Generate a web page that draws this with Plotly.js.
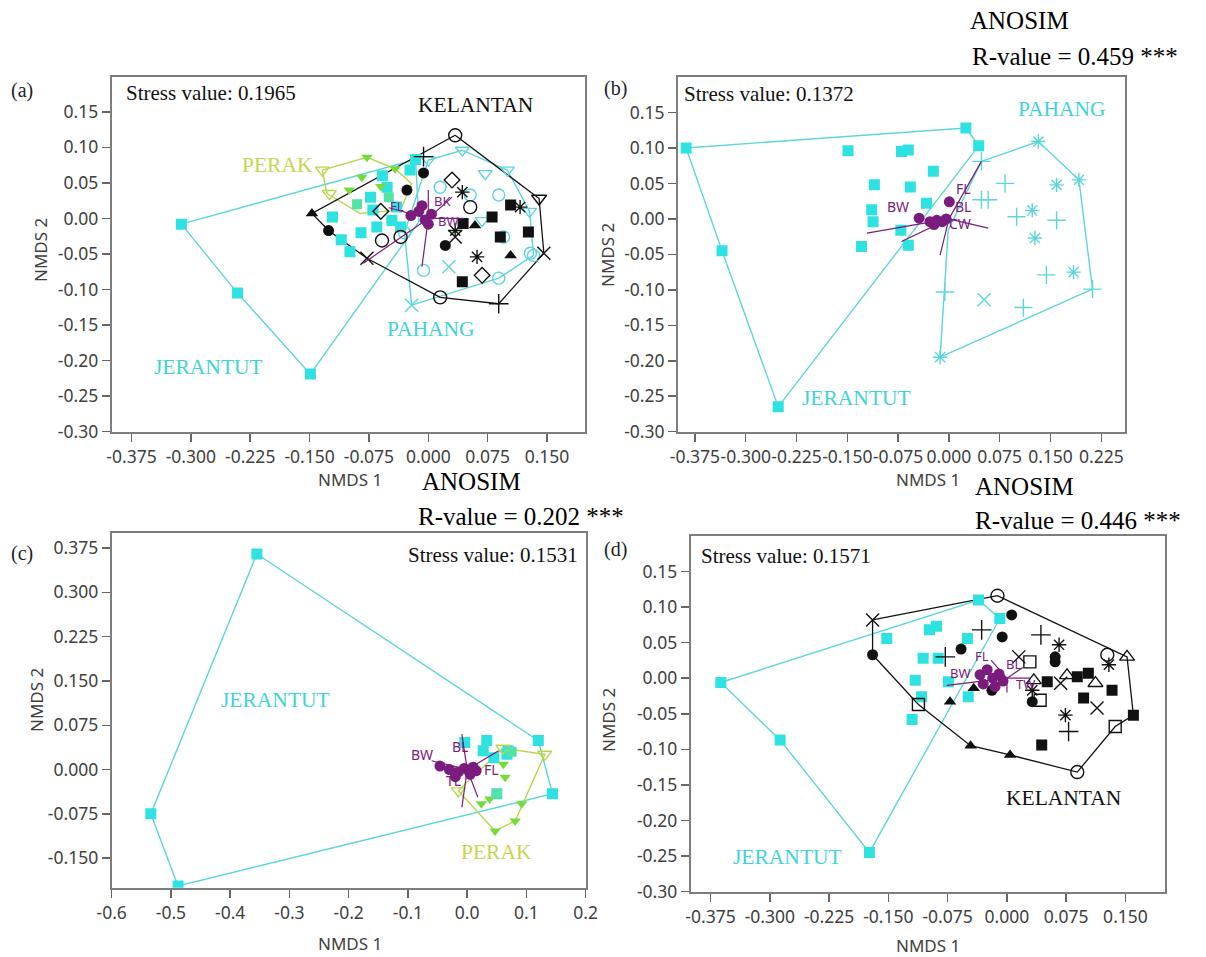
<!DOCTYPE html>
<html><head><meta charset="utf-8">
<script src="https://cdn.plot.ly/plotly-3.0.1.min.js"></script>
<style>html,body{margin:0;padding:0;background:#fff}#chart{width:1206px;height:957px}</style>
</head><body><div id="chart"></div>
<script>
// ---------------- DATA ----------------
// Panel (a)
const aJerX = [-0.312,-0.241,-0.149,-0.121,-0.085,-0.099,-0.073,-0.070,-0.065,-0.052,-0.046,-0.040,-0.023,-0.016,-0.035,-0.110,-0.058];
const aJerY = [-0.008,-0.105,-0.219,0.002,-0.020,-0.047,0.030,0.012,-0.012,0.044,-0.003,0.016,0.068,0.083,-0.012,-0.030,0.060];
const aJerHullX = [-0.312,-0.016,-0.012,-0.149,-0.241,-0.312];
const aJerHullY = [-0.008,0.083,-0.005,-0.219,-0.105,-0.008];
const aPerX = [-0.134,-0.0775,-0.084,-0.042,-0.100,-0.060,-0.125,-0.090,-0.050];
const aPerY = [0.068,0.086,0.058,0.070,0.040,0.045,0.035,0.020,0.030];
const aPerS = ['R2','R1','R1','R1','R1','R1','R2','R3','R3'];
const aPerHullX = [-0.134,-0.0775,-0.042,-0.021,-0.035,-0.086,-0.128,-0.134];
const aPerHullY = [0.068,0.086,0.070,0.049,0.012,0.007,0.035,0.068];
const aPahX = [-0.021,0.043,0.100,0.072,0.053,-0.006,0.089,0.129,0.095,0.026,0.068,0.015,0.089,0.128,0.133,-0.030,0.000];
const aPahY = [-0.122,0.096,0.068,0.063,0.033,-0.073,-0.084,-0.049,-0.026,-0.068,-0.003,0.044,0.033,0.010,-0.052,-0.020,0.082];
const aPahS = ['P3','P2','P2','P2','P1','P1','P1','P1','P1','P3','P2','P1','P1','P2','P1','P1','P2'];
const aPahHullX = [-0.021,-0.030,0.000,0.043,0.100,0.128,0.133,0.089,-0.021];
const aPahHullY = [-0.122,-0.020,0.082,0.096,0.068,0.010,-0.052,-0.084,-0.122];
const aKelX = [0.034,0.140,0.146,0.089,0.015,-0.0775,-0.126,-0.147,-0.0585,-0.035,0.053,0.034,-0.006,0.0215,-0.027,-0.006,0.104,0.059,0.0806,0.044,0.091,0.1265,0.104,0.043,0.030,0.068,0.043,0.0616,0.034,0.116,-0.060];
const aKelY = [0.117,0.028,-0.049,-0.120,-0.111,-0.056,-0.017,0.007,-0.031,-0.026,0.016,-0.026,0.087,-0.038,0.040,0.064,-0.052,-0.010,0.002,-0.007,-0.026,-0.019,0.019,-0.089,0.054,-0.080,0.037,-0.054,-0.017,0.016,0.010];
const aKelS = ['K2','K9','K7','K8','K2','K7','K1','K6','K2','K2','K2','K7','K8','K1','K1','K1','K6','K6','K3','K3','K3','K3','K3','K3','K4','K4','K5','K5','K5','K5','K4'];
const aKelHullX = [0.034,0.140,0.146,0.089,0.015,-0.0775,-0.126,-0.147,0.034];
const aKelHullY = [0.117,0.028,-0.049,-0.120,-0.111,-0.056,-0.017,0.007,0.117];
const aCenX = [-0.022,-0.012,-0.004,0.004,-0.008,0.000];
const aCenY = [0.004,0.010,-0.002,0.006,0.018,-0.008];
const aVecX = [-0.008,-0.082,0.045,0.030,-0.050,0.000];
const aVecY = [-0.068,-0.063,0.000,0.030,0.015,0.040];
const aVecLab = ['FL','BK','BW'];
const aVecLabX = [-0.040,0.018,0.026];
const aVecLabY = [0.018,0.024,-0.003];

// Panel (b)
const bJerX = [-0.388,0.025,0.044,-0.335,-0.252,-0.149,-0.070,-0.060,-0.023,-0.110,-0.057,-0.033,-0.114,-0.112,-0.071,-0.129,-0.060];
const bJerY = [0.100,0.128,0.103,-0.045,-0.265,0.096,0.095,0.097,0.067,0.048,0.045,0.022,0.013,-0.004,-0.016,-0.039,-0.037];
const bJerHullX = [-0.388,0.025,0.044,-0.252,-0.335,-0.388];
const bJerHullY = [0.100,0.128,0.103,-0.265,-0.045,0.100];
const bPahX = [0.132,0.192,0.212,-0.013,0.048,0.083,0.048,0.058,0.100,0.123,0.159,0.159,0.127,0.144,0.184,0.052,0.110,-0.006];
const bPahY = [0.109,0.055,-0.099,-0.195,0.081,0.050,0.027,0.027,0.003,0.012,0.048,-0.002,-0.027,-0.079,-0.075,-0.114,-0.125,-0.103];
const bPahS = ['P5','P5','P4','P5','P4','P4','P4','P4','P4','P5','P5','P4','P5','P4','P5','P3','P4','P4'];
const bPahHullX = [0.048,0.132,0.192,0.212,-0.013,-0.001,0.048];
const bPahHullY = [0.081,0.109,0.055,-0.099,-0.195,-0.016,0.081];
const bCenX = [-0.044,0.0006,-0.028,-0.018,-0.010,-0.004,-0.022];
const bCenY = [0.001,0.024,-0.004,-0.002,-0.004,0.000,-0.008];
const bVecX = [0.048,-0.121,-0.070,-0.013,0.058];
const bVecY = [0.081,-0.020,-0.032,-0.051,-0.013];
const bVecLab = ['BW','FL','BL','CW'];
const bVecLabX = [-0.075,0.021,0.021,0.016];
const bVecLabY = [0.017,0.043,0.017,-0.006];

// Panel (c)
const cJerX = [-0.355,0.120,0.144,-0.488,-0.534,0.033,0.027,0.067,0.050,0.069,-0.004,0.045];
const cJerY = [0.365,0.049,-0.041,-0.197,-0.075,0.049,0.032,0.026,-0.041,0.032,0.046,0.020];
const cJerHullX = [-0.355,0.120,0.144,-0.488,-0.534,-0.355];
const cJerHullY = [0.365,0.049,-0.041,-0.197,-0.075,0.365];
const cPerX = [0.131,0.047,0.081,-0.015,0.024,0.038,0.064,0.061,0.092,0.060,0.050,0.075];
const cPerY = [0.026,-0.104,-0.087,-0.036,-0.058,-0.050,-0.013,0.009,-0.058,0.036,-0.041,0.030];
const cPerS = ['R2','R1','R1','R2','R1','R1','R1','R1','R1','R2','R3','R3'];
const cPerHullX = [-0.015,0.047,0.081,0.131,0.060,-0.015];
const cPerHullY = [-0.036,-0.104,-0.087,0.026,0.036,-0.036];
const cCenX = [-0.046,-0.030,-0.015,-0.005,0.005,0.015,-0.020,0.010];
const cCenY = [0.006,0.000,-0.004,0.002,-0.008,-0.002,-0.012,0.004];
const cVecX = [-0.009,-0.009,0.053,0.018,-0.060];
const cVecY = [0.060,-0.064,0.032,-0.047,0.015];
const cVecLab = ['BW','BL','FL','TL'];
const cVecLabX = [-0.077,-0.012,0.041,-0.023];
const cVecLabY = [0.026,0.039,0.000,-0.019];

// Panel (d)
const dJerX = [-0.362,-0.287,-0.174,-0.036,-0.009,-0.152,-0.098,-0.089,-0.106,-0.087,-0.050,-0.116,-0.108,-0.120,-0.074,-0.049];
const dJerY = [-0.006,-0.087,-0.245,0.110,0.084,0.056,0.068,0.073,0.028,0.028,0.056,-0.003,-0.026,-0.058,-0.005,-0.026];
const dJerHullX = [-0.362,-0.036,-0.009,-0.174,-0.287,-0.362];
const dJerHullY = [-0.006,0.110,0.084,-0.245,-0.087,-0.006];
const dKelX = [-0.170,-0.012,0.152,0.160,0.137,0.089,0.004,-0.046,-0.112,-0.170,0.006,-0.006,-0.058,-0.019,0.032,0.061,0.061,0.127,-0.032,0.043,-0.078,0.078,0.066,0.074,0.129,0.032,0.051,0.089,0.097,0.133,0.044,0.103,0.029,0.042,0.076,0.112,0.034,0.114,0.068,0.015,-0.072,-0.042];
const dKelY = [0.082,0.116,0.030,-0.052,-0.068,-0.132,-0.108,-0.095,-0.037,0.033,0.089,0.058,0.041,-0.017,-0.033,0.023,0.030,0.033,0.068,0.061,0.030,-0.075,0.047,-0.052,0.019,-0.017,-0.005,0.002,-0.028,-0.017,-0.094,0.007,0.023,-0.031,0.004,-0.007,-0.003,-0.042,-0.007,0.030,-0.033,-0.014];
const dKelS = ['K7','K2','K11','K3','K10','K2','K6','K6','K10','K1','K1','K1','K1','K1','K1','K1','K1','K2','K8','K8','K8','K8','K5','K5','K5','K5','K3','K3','K3','K3','K3','K3','K10','K10','K11','K11','K11','K7','K7','K7','K6','K6'];
const dKelHullX = [-0.170,-0.012,0.152,0.160,0.137,0.089,0.004,-0.046,-0.112,-0.170,-0.170];
const dKelHullY = [0.082,0.116,0.030,-0.052,-0.068,-0.132,-0.108,-0.095,-0.037,0.033,0.082];
const dCenX = [-0.034,-0.025,-0.018,-0.010,-0.030,-0.015,-0.005];
const dCenY = [0.005,0.012,0.000,0.006,-0.008,-0.012,-0.004];
const dVecX = [-0.076,0.030,-0.020,0.000,0.020];
const dVecY = [-0.010,0.000,0.025,-0.020,0.015];
const dVecLab = ['BW','FL','BL','TW'];
const dVecLabX = [-0.059,-0.031,0.008,0.024];
const dVecLabY = [0.007,0.031,0.020,-0.008];

// Ticks
const tickX1 = [-0.375,-0.300,-0.225,-0.150,-0.075,0.000,0.075,0.150];
const tickX1Lab = ['-0.375','-0.300','-0.225','-0.150','-0.075','0.000','0.075','0.150'];
const tickX2 = [-0.375,-0.300,-0.225,-0.150,-0.075,0.000,0.075,0.150,0.225];
const tickX2Lab = ['-0.375','-0.300','-0.225','-0.150','-0.075','0.000','0.075','0.150','0.225'];
const tickY1 = [-0.30,-0.25,-0.20,-0.15,-0.10,-0.05,0.00,0.05,0.10,0.15];
const tickY1Lab = ['-0.30','-0.25','-0.20','-0.15','-0.10','-0.05','0.00','0.05','0.10','0.15'];
const tickX3 = [-0.6,-0.5,-0.4,-0.3,-0.2,-0.1,0.0,0.1,0.2];
const tickX3Lab = ['-0.6','-0.5','-0.4','-0.3','-0.2','-0.1','0.0','0.1','0.2'];
const tickY3 = [-0.150,-0.075,0.000,0.075,0.150,0.225,0.300,0.375];
const tickY3Lab = ['-0.150','-0.075','0.000','0.075','0.150','0.225','0.300','0.375'];

// ---------------- STYLE ----------------
const CYAN='#2fe2e2', CYAN_L='#5cd6d9', BLACK='#111111', LIME='#b9d64a', GREEN='#74dc3a', GSQ='#55e2a6', PURPLE='#7a1c7e';
const SYM = {
  K1:['circle',11,true], K2:['circle-open',13,false], K3:['square',11,true], K4:['diamond-open',12,false],
  K5:['asterisk-open',12,false], K6:['triangle-up',11,true], K7:['x-thin-open',13,false], K8:['cross-thin-open',14,false],
  K9:['triangle-down-open',13,false], K10:['square-open',12,false], K11:['triangle-up-open',13,false],
  P1:['circle-open',12,false], P2:['triangle-down-open',12,false], P3:['x-thin-open',13,false],
  P4:['cross-thin-open',13,false], P5:['asterisk-open',12,false],
  R1:['triangle-down',10,true], R2:['triangle-down-open',12,false], R3:['square',10,true]
};
const traces = [];
function hull(xa,ya,X,Y,color,w){traces.push({type:'scatter',mode:'lines',xaxis:xa,yaxis:ya,x:X,y:Y,line:{color:color,width:w||1.4},hoverinfo:'skip'});}
function squares(xa,ya,X,Y){traces.push({type:'scatter',mode:'markers',xaxis:xa,yaxis:ya,x:X,y:Y,marker:{symbol:'square',size:11,color:CYAN,line:{width:0}},hoverinfo:'skip'});}
function pts(xa,ya,X,Y,S,colorOf){
  [...new Set(S)].forEach(c=>{
    const idx=S.map((s,i)=>s===c?i:-1).filter(i=>i>=0);
    const [sym,size,filled]=SYM[c]; const col=colorOf(c);
    traces.push({type:'scatter',mode:'markers',xaxis:xa,yaxis:ya,x:idx.map(i=>X[i]),y:idx.map(i=>Y[i]),
      marker:{symbol:sym,size:size,color:col,line:{color:col,width:filled?0:1.4}},hoverinfo:'skip'});
  });
}
function vectors(xa,ya,VX,VY,CX,CY){
  const x=[],y=[]; VX.forEach((v,i)=>{x.push(0,v,null);y.push(0,VY[i],null);});
  traces.push({type:'scatter',mode:'lines',xaxis:xa,yaxis:ya,x:x,y:y,line:{color:PURPLE,width:1.2},hoverinfo:'skip'});
  traces.push({type:'scatter',mode:'markers',xaxis:xa,yaxis:ya,x:CX,y:CY,marker:{symbol:'circle',size:11,color:PURPLE},hoverinfo:'skip'});
}
const perCol = c => c==='R1'?GREEN:(c==='R2'?LIME:GSQ);

// (a)
hull('x','y',aJerHullX,aJerHullY,CYAN_L); hull('x','y',aPahHullX,aPahHullY,CYAN_L);
hull('x','y',aPerHullX,aPerHullY,LIME); hull('x','y',aKelHullX,aKelHullY,BLACK,1.3);
squares('x','y',aJerX,aJerY); pts('x','y',aPerX,aPerY,aPerS,perCol);
pts('x','y',aPahX,aPahY,aPahS,()=>CYAN_L); pts('x','y',aKelX,aKelY,aKelS,()=>BLACK);
vectors('x','y',aVecX,aVecY,aCenX,aCenY);
// (b)
hull('x2','y2',bJerHullX,bJerHullY,CYAN_L); hull('x2','y2',bPahHullX,bPahHullY,CYAN_L);
squares('x2','y2',bJerX,bJerY); pts('x2','y2',bPahX,bPahY,bPahS,()=>CYAN_L);
vectors('x2','y2',bVecX,bVecY,bCenX,bCenY);
// (c)
hull('x3','y3',cJerHullX,cJerHullY,CYAN_L); hull('x3','y3',cPerHullX,cPerHullY,LIME);
squares('x3','y3',cJerX,cJerY); pts('x3','y3',cPerX,cPerY,cPerS,perCol);
vectors('x3','y3',cVecX,cVecY,cCenX,cCenY);
// (d)
hull('x4','y4',dJerHullX,dJerHullY,CYAN_L); hull('x4','y4',dKelHullX,dKelHullY,BLACK,1.3);
squares('x4','y4',dJerX,dJerY); pts('x4','y4',dKelX,dKelY,dKelS,()=>BLACK);
vectors('x4','y4',dVecX,dVecY,dCenX,dCenY);

const W=1206,H=957;
const px = v=>v/W, py = v=>1-v/H;
function ax(domain,range,tv,tt,anchor){
  return {domain:domain,range:range,tickvals:tv,ticktext:tt,anchor:anchor,showline:true,mirror:true,
    linecolor:'#7d7d7d',linewidth:2,ticks:'outside',ticklen:8,tickwidth:1.5,tickcolor:'#666',
    showgrid:false,zeroline:false,tickangle:0,tickfont:{family:'Noto Sans, sans-serif',size:17.5,color:'#404040'},fixedrange:true};
}
const ann=[];
const SERIF='Liberation Serif, serif';
function txt(x,y,t,o){ann.push(Object.assign({x:x,y:y,text:t,showarrow:false,xref:'paper',yref:'paper',xanchor:'left',yanchor:'middle',
  font:{family:SERIF,size:21,color:'#111'}},o||{}));}
function dtxt(xr,yr,X,Y,T,color,size,family){T.forEach((t,i)=>ann.push({x:X[i],y:Y[i],text:t,showarrow:false,xref:xr,yref:yr,
  font:{family:family||SERIF,size:size||21.5,color:color}}));}

// panel letters and stress values
const lt={font:{family:SERIF,size:20,color:'#222'}};
txt(px(9),py(90),'(a)',lt); txt(px(602),py(88),'(b)',lt);
txt(px(9),py(553),'(c)',lt); txt(px(602),py(549),'(d)',lt);
txt(px(124),py(93),'Stress value: 0.1965');
txt(px(682),py(94),'Stress value: 0.1372');
txt(px(580),py(555),'Stress value: 0.1531',{xanchor:'right'});
txt(px(699),py(556),'Stress value: 0.1571');
// ANOSIM
const big={font:{family:SERIF,size:25,color:'#000'}};
txt(px(968),py(20),'ANOSIM',big); txt(px(970),py(57),'R-value = 0.459 ***',big);
txt(px(420),py(481),'ANOSIM',big); txt(px(416),py(516),'R-value = 0.202 ***',big);
txt(px(973),py(486),'ANOSIM',big); txt(px(973),py(520),'R-value = 0.446 ***',big);
// axis titles
const at={xanchor:'center',font:{family:'Noto Sans, sans-serif',size:17,color:'#404040'}};
txt(px(350),py(479),'NMDS 1',at); txt(px(928),py(479),'NMDS 1',at);
txt(px(350),py(943),'NMDS 1',at); txt(px(928),py(945),'NMDS 1',at);
const at2={xanchor:'center',textangle:-90,font:{family:'Noto Sans, sans-serif',size:17,color:'#404040'}};
txt(px(40),py(250),'NMDS 2',at2); txt(px(608),py(255),'NMDS 2',at2);
txt(px(36),py(700),'NMDS 2',at2); txt(px(608),py(720),'NMDS 2',at2);
// group labels
const CYT='#3fd4d8', LIT='#c6d64e';
dtxt('x','y',[0.060],[0.160],['KELANTAN'],'#111');
dtxt('x','y',[-0.191],[0.075],['PERAK'],LIT);
dtxt('x','y',[0.003,-0.278],[-0.155,-0.209],['PAHANG','JERANTUT'],CYT);
dtxt('x2','y2',[0.167,-0.136],[0.155,-0.253],['PAHANG','JERANTUT'],CYT);
dtxt('x3','y3',[-0.324],[0.117],['JERANTUT'],CYT);
dtxt('x3','y3',[0.0486],[-0.140],['PERAK'],LIT);
dtxt('x4','y4',[0.0725],[-0.169],['KELANTAN'],'#111');
dtxt('x4','y4',[-0.278],[-0.252],['JERANTUT'],CYT);
// vector labels
const vf='Noto Sans, sans-serif';
dtxt('x','y',aVecLabX,aVecLabY,aVecLab,PURPLE,13,vf);
dtxt('x2','y2',bVecLabX,bVecLabY,bVecLab,PURPLE,14,vf);
dtxt('x3','y3',cVecLabX,cVecLabY,cVecLab,PURPLE,14,vf);
dtxt('x4','y4',dVecLabX,dVecLabY,dVecLab,PURPLE,13,vf);

const layout={width:W,height:H,margin:{l:0,r:0,t:0,b:0},paper_bgcolor:'#fff',plot_bgcolor:'#fff',showlegend:false,
  xaxis: ax([px(111.7),px(585)],[-0.40,0.198],tickX1,tickX1Lab,'y'),
  yaxis: ax([py(431.7),py(77)],[-0.30,0.199],tickY1,tickY1Lab,'x'),
  xaxis2: ax([px(678),px(1125)],[-0.40,0.26],tickX2,tickX2Lab,'y2'),
  yaxis2: ax([py(431.7),py(77)],[-0.30,0.200],tickY1,tickY1Lab,'x2'),
  xaxis3: ax([px(111.7),px(585.7)],[-0.60,0.20],tickX3,tickX3Lab,'y3'),
  yaxis3: ax([py(887.7),py(533.3)],[-0.20,0.40],tickY3,tickY3Lab,'x3'),
  xaxis4: ax([px(690.8),px(1165)],[-0.40,0.20],tickX1,tickX1Lab,'y4'),
  yaxis4: ax([py(891.5),py(536)],[-0.30,0.20],tickY1,tickY1Lab,'x4'),
  annotations:ann};
Plotly.newPlot('chart',traces,layout,{staticPlot:true,displayModeBar:false});
</script></body></html>
